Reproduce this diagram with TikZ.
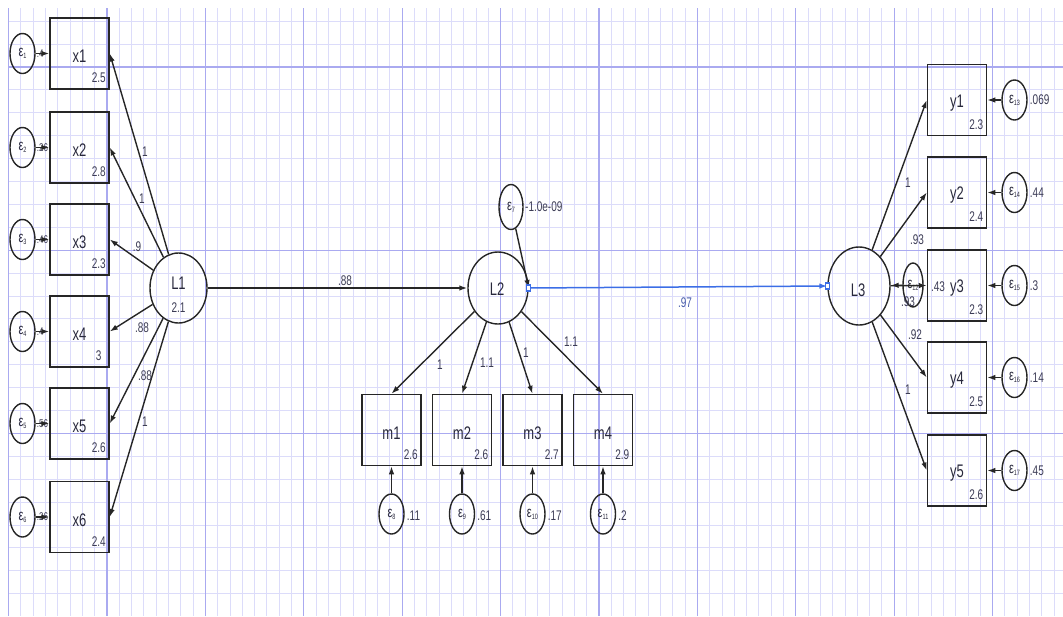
\documentclass[tikz,border=0pt]{standalone}
\usepackage{fontspec}
\setmainfont{Liberation Sans}
\usetikzlibrary{shapes.geometric,arrows.meta}
\newcommand\tallt[1]{\scalebox{1}[1.4]{#1}}
\newcommand\eps[1]{\tallt{ε{\fontsize{5.5}{5.5}\selectfont\raisebox{-1.5pt}{#1}}}}
\definecolor{gridminor}{RGB}{220,220,250}
\definecolor{gridmajor}{RGB}{170,170,240}
\definecolor{txt}{RGB}{40,40,60}
\definecolor{valtxt}{RGB}{60,60,85}
\definecolor{selblue}{RGB}{60,110,230}
\definecolor{bluetxt}{RGB}{70,90,170}
\begin{document}
\begin{tikzpicture}[x=1pt,y=-1pt,
 box/.style={draw=black!85, line width=1.5pt, minimum width=59pt, minimum height=71pt, inner sep=0pt},
 lbl/.style={font=\fontsize{13}{13}\selectfont, text=txt, inner sep=0pt},
 lat/.style={ellipse, draw=black!85, line width=1.4pt, inner sep=0pt},
 err/.style={ellipse, draw=black!85, line width=1.4pt, minimum width=25pt, minimum height=40pt, inner sep=0pt, font=\fontsize{11}{11}\selectfont, text=txt},
 val/.style={font=\fontsize{10}{10}\selectfont, text=valtxt, inner sep=0pt},
 ld/.style={font=\fontsize{10}{10}\selectfont, text=valtxt, inner sep=0pt},
 arr/.style={draw=black!85, line width=1.4pt, -{Latex[length=8pt,width=5.5pt]}},
 bluearr/.style={draw=selblue, line width=1.5pt, -{Latex[length=8pt,width=5.5pt]}},
 handle/.style={draw=selblue, line width=1.2pt, fill=white, minimum width=4pt, minimum height=6pt, inner sep=0pt},
]
\useasboundingbox (0,0) rectangle (1063,616);
% grid
\foreach \i in {0,...,85} {
  \pgfmathsetmacro\xx{8.6+12.3*\i}
  \draw[gridminor, line width=0.9pt] (\xx,8) -- (\xx,616);
}
\foreach \j in {0,...,25} {
  \pgfmathsetmacro\yy{21.2+22.9*\j}
  \draw[gridminor, line width=0.9pt] (8.6,\yy) -- (1063,\yy);
}
\foreach \i in {0,8,...,80} {
  \pgfmathsetmacro\xx{8.6+12.3*\i}
  \draw[gridmajor, line width=1.1pt] (\xx,8) -- (\xx,616);
}
\foreach \j in {2,10,18} {
  \pgfmathsetmacro\yy{21.2+22.9*\j}
  \draw[gridmajor, line width=1.1pt] (8.6,\yy) -- (1063,\yy);
}

\newcommand\obsbox[5]{%
 \node[box] (#1) at (#2,#3) {};
 \node[lbl] (#1t) at ([yshift=-3pt]#1.center) {\tallt{#4}};
 \node[val] (#1v) at ([shift={(-11pt,12pt)}]#1.south east) {\tallt{#5}};
}

% left observed
\obsbox{x1}{79.5}{53.5}{x1}{2.5}
\obsbox{x2}{79.5}{147.5}{x2}{2.8}
\obsbox{x3}{79.5}{239.5}{x3}{2.3}
\obsbox{x4}{79.5}{331.5}{x4}{3}
\obsbox{x5}{79.5}{423.5}{x5}{2.6}
\obsbox{x6}{79.5}{517}{x6}{2.4}

% middle observed
\obsbox{m1}{391.5}{430}{m1}{2.6}
\obsbox{m2}{462}{430}{m2}{2.6}
\obsbox{m3}{532.5}{430}{m3}{2.7}
\obsbox{m4}{603}{430}{m4}{2.9}

% right observed
\obsbox{y1}{957}{100}{y1}{2.3}
\obsbox{y2}{957}{192.5}{y2}{2.4}
\obsbox{y3}{957}{285.5}{y3}{2.3}
\obsbox{y4}{957}{377.5}{y4}{2.5}
\obsbox{y5}{957}{470.5}{y5}{2.6}

% latents
\node[lat, minimum width=57pt, minimum height=70pt] (L1) at (178.5,288) {};
\node[lbl] (L1t) at (178.5,283) {\tallt{L1}};
\node[val] (L1v) at (178.5,308) {\tallt{2.1}};
\node[lat, minimum width=60pt, minimum height=72pt] (L2) at (498,288) {};
\node[lbl] (L2t) at (497,289) {\tallt{L2}};
\node[lat, minimum width=62pt, minimum height=78pt] (L3) at (859,286) {};
\node[lbl] (L3t) at (858,290) {\tallt{L3}};

% left errors
\foreach \k/\b/\v in {1/x1/.4,2/x2/.26,3/x3/.46,4/x4/.4,5/x5/.56,6/x6/.26} {
  \node[err] (e\k) at (22.5,0 |- \b.center) {\eps{\k}};
  \node[val, anchor=west, font=\fontsize{8}{8}\selectfont] (e\k v) at ([xshift=1pt]e\k.east) {\tallt{\v}};
  \draw[arr] (e\k) -- (\b.west);
}

% middle errors
\foreach \k/\b/\v in {8/m1/.11,9/m2/.61,10/m3/.17,11/m4/.2} {
  \node[err] (e\k) at (\b.center |- 0,514) {\eps{\k}};
  \node[val, anchor=west] (e\k v) at ([xshift=2pt,yshift=-2pt]e\k.east) {\tallt{\v}};
  \draw[arr] (e\k) -- (\b.south);
}

% right errors
\foreach \k/\b/\v in {13/y1/.069,14/y2/.44,15/y3/.3,16/y4/.14,17/y5/.45} {
  \node[err] (e\k) at (1014.5,0 |- \b.center) {\eps{\k}};
  \node[val, anchor=west] (e\k v) at ([xshift=2pt]e\k.east) {\tallt{\v}};
  \draw[arr] (e\k) -- (\b.east);
}

% L2 error
\node[err, minimum width=24pt, minimum height=45pt] (e7) at (511,207) {\eps{7}};
\node[val, anchor=west] (e7v) at (525,207) {\tallt{-1.0e-09}};
\draw[arr] (e7) -- (L2.east);

% L3 error
\node[err, minimum width=20pt, minimum height=44pt] (e12) at (913,285) {\eps{12}};
\node[val] (e12v) at (938,287) {\tallt{.43}};
\draw[arr] (e12) -- (L3);

% loadings L1
\foreach \b in {x1,x2,x3,x4,x5,x6} { \draw[arr] (L1) -- (\b.east); }
\node[ld] (l1) at (145,152) {\tallt{1}};
\node[ld] (l2) at (142,199) {\tallt{1}};
\node[ld] (l3) at (137,247) {\tallt{.9}};
\node[ld] (l4) at (142,328) {\tallt{.88}};
\node[ld] (l5) at (145,376) {\tallt{.88}};
\node[ld] (l6) at (145,422) {\tallt{1}};

% structural
\draw[arr] (L1) -- (L2);
\node[ld] (s1) at (345,281) {\tallt{.88}};
\draw[bluearr] (L2.east) -- (L3.west);
\node[handle] (h1) at (L2.east) {};
\node[handle] (h2) at (L3.west) {};
\node[ld, text=bluetxt] (s2) at (685,303) {\tallt{.97}};

% loadings L2
\foreach \b in {m1,m2,m3,m4} { \draw[arr] (L2) -- (\b.north); }
\node[ld] (lm1) at (440,365) {\tallt{1}};
\node[ld] (lm2) at (487,363) {\tallt{1.1}};
\node[ld] (lm3) at (526,353) {\tallt{1}};
\node[ld] (lm4) at (571,342) {\tallt{1.1}};

% loadings L3
\foreach \b in {y1,y2,y3,y4,y5} { \draw[arr] (L3) -- (\b.west); }
\node[ld] (ly1) at (908,183) {\tallt{1}};
\node[ld] (ly2) at (917,240) {\tallt{.93}};
\node[ld] (ly3) at (908,302) {\tallt{.93}};
\node[ld] (ly4) at (915,335) {\tallt{.92}};
\node[ld] (ly5) at (908,390) {\tallt{1}};
\end{tikzpicture}
\end{document}
